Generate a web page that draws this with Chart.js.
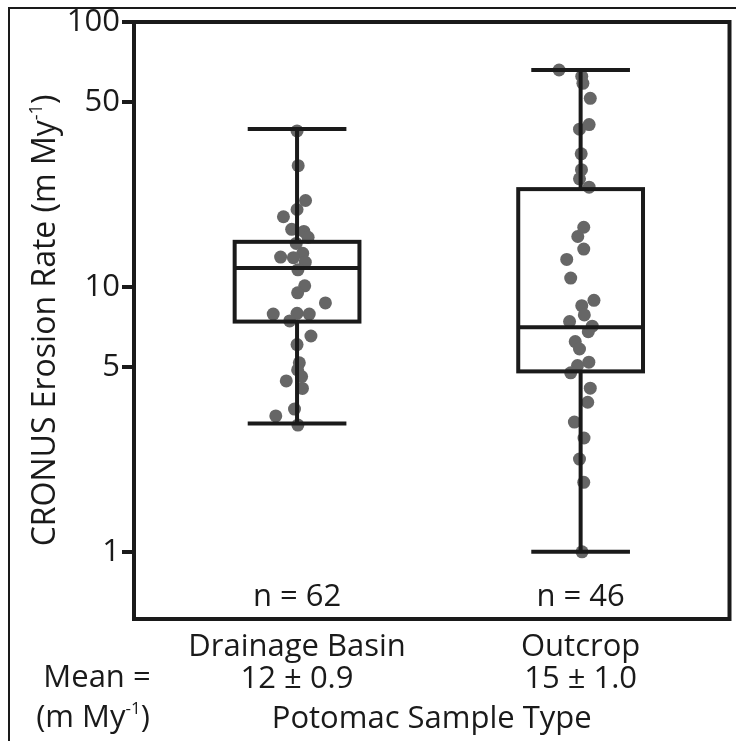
<!DOCTYPE html>
<html>
<head>
<meta charset="utf-8">
<script src="https://cdn.jsdelivr.net/npm/chart.js@4.4.1/dist/chart.umd.min.js"></script>
<style>
  html, body { margin: 0; padding: 0; background: #fff; }
  #wrap { width: 736px; height: 741px; }
</style>
</head>
<body>
<div id="wrap"><canvas id="ErosionChart" width="736" height="741"></canvas></div>
<script>
// ================= Data =================
const categories = ['Drainage Basin', 'Outcrop'];
const meanRates = ['12 ± 0.9', '15 ± 1.0'];
const sampleCounts = [62, 46];
const yTickValues = [1, 5, 10, 50, 100];

// box plot stats (m My-1)
const whiskerLow = [3.05, 1.0];
const quartile1 = [7.4, 4.8];
const medians = [11.8, 7.05];
const quartile3 = [14.8, 23.4];
const whiskerHigh = [39.5, 65.9];

// single samples, jitter is in category units
const drainageRates = [38.8, 28.7, 21.2, 19.6, 18.4, 16.5, 16.2, 15.4, 14.6, 13.4, 12.96, 12.9, 12.4, 11.6, 10.1, 9.5, 8.7, 7.9, 7.95, 7.9, 7.44, 6.53, 6.06, 5.17, 4.86, 4.59, 4.42, 4.14, 3.46, 3.26, 3.01];
const drainageJitter = [0.0, 0.004, 0.03, 0.0, -0.048, -0.019, 0.024, 0.039, -0.003, 0.02, -0.058, -0.013, 0.029, 0.003, 0.027, 0.002, 0.10, -0.084, 0.0, 0.043, -0.026, 0.049, 0.0, 0.008, 0.002, 0.016, -0.038, 0.019, -0.009, -0.075, 0.003];
const outcropRates = [65.9, 62.4, 58.7, 51.5, 41.0, 39.4, 31.8, 27.7, 25.6, 23.8, 16.8, 15.5, 13.9, 12.7, 10.8, 8.9, 8.5, 7.84, 7.40, 7.11, 6.78, 6.22, 5.83, 5.20, 5.05, 4.74, 4.15, 3.67, 3.09, 2.69, 2.24, 1.83, 1.0];
const outcropJitter = [-0.076, 0.004, 0.008, 0.034, 0.03, -0.004, 0.002, 0.003, -0.004, 0.03, 0.011, -0.01, 0.011, -0.049, -0.035, 0.047, 0.004, 0.013, -0.039, 0.041, 0.027, -0.019, -0.004, 0.029, -0.011, -0.035, 0.034, 0.025, -0.022, 0.012, -0.004, 0.011, 0.005];

const FONT = '"Open Sans", sans-serif';
const INK = '#1a1a1a';
const DOT = '#666666';

// text with a small raised part, e.g. My-1
function drawSupText(ctx, base, sup, tail, x, y, size) {
  const big = `${size}px ${FONT}`;
  const small = `${Math.round(size * 0.55)}px ${FONT}`;
  ctx.font = big;
  const w1 = ctx.measureText(base).width;
  const w3 = ctx.measureText(tail).width;
  ctx.font = small;
  const w2 = ctx.measureText(sup).width;
  let sx = x - (w1 + w2 + w3) / 2;
  ctx.textAlign = 'left';
  ctx.textBaseline = 'middle';
  ctx.font = big;
  ctx.fillText(base, sx, y);
  ctx.font = small;
  ctx.fillText(sup, sx + w1, y - size * 0.3);
  ctx.font = big;
  ctx.fillText(tail, sx + w1 + w2, y);
}

// ================= Box plot + frame + labels =================
const boxPlot = {
  id: 'boxPlot',
  beforeDraw(chart) {
    const c = chart.ctx;
    c.save();
    c.fillStyle = '#fff';
    c.fillRect(0, 0, chart.width, chart.height);
    // outer figure border (runs off right/bottom)
    c.strokeStyle = INK;
    c.lineWidth = 2;
    c.strokeRect(9, 8, chart.width + 10, chart.height + 10);
    c.restore();
  },
  afterDatasetsDraw(chart) {
    const c = chart.ctx;
    const xs = chart.scales.x;
    const ys = chart.scales.y;
    const area = chart.chartArea;
    c.save();
    c.strokeStyle = INK;
    c.lineWidth = 4;
    c.lineCap = 'butt';
    categories.forEach((cat, i) => {
      const xc = xs.getPixelForValue(i + 1);
      const bl = xs.getPixelForValue(i + 1 - 0.22);
      const br = xs.getPixelForValue(i + 1 + 0.22);
      const cl = xs.getPixelForValue(i + 1 - 0.174);
      const cr = xs.getPixelForValue(i + 1 + 0.174);
      const yLo = ys.getPixelForValue(whiskerLow[i]);
      const yQ1 = ys.getPixelForValue(quartile1[i]);
      const yMed = ys.getPixelForValue(medians[i]);
      const yQ3 = ys.getPixelForValue(quartile3[i]);
      const yHi = ys.getPixelForValue(whiskerHigh[i]);
      c.beginPath();
      // whiskers
      c.moveTo(xc, yHi); c.lineTo(xc, yQ3);
      c.moveTo(xc, yQ1); c.lineTo(xc, yLo);
      c.moveTo(cl, yHi); c.lineTo(cr, yHi);
      c.moveTo(cl, yLo); c.lineTo(cr, yLo);
      // median
      c.moveTo(bl, yMed); c.lineTo(br, yMed);
      c.stroke();
      c.strokeRect(bl, yQ3, br - bl, yQ1 - yQ3);
    });
    // plot frame
    c.lineJoin = 'miter';
    c.strokeRect(area.left, area.top, area.right - area.left, area.bottom - area.top);

    // n = labels inside the plot
    c.fillStyle = INK;
    c.font = `31px ${FONT}`;
    c.textAlign = 'center';
    c.textBaseline = 'middle';
    sampleCounts.forEach((n, i) => {
      c.fillText(`n = ${n}`, xs.getPixelForValue(i + 1), area.bottom - 22);
    });

    // mean row header
    c.fillText('Mean =', 97, 678);
    drawSupText(c, '(m My', '-1', ')', 93, 718, 31);

    // y axis title
    c.save();
    c.translate(46, (area.top + area.bottom) / 2);
    c.rotate(-Math.PI / 2);
    drawSupText(c, 'CRONUS Erosion Rate (m My', '-1', ')', 0, 0, 32);
    c.restore();
    c.restore();
  }
};

const ctx = document.getElementById('ErosionChart').getContext('2d');

const dotStyle = {
  backgroundColor: DOT,
  borderWidth: 0,
  pointRadius: 6.5,
  pointHoverRadius: 6.5
};

const chart = new Chart(ctx, {
  type: 'scatter',
  data: {
    datasets: [
      {
        label: categories[0],
        data: drainageRates.map((r, i) => ({ x: 1 + drainageJitter[i], y: r })),
        ...dotStyle
      },
      {
        label: categories[1],
        data: outcropRates.map((r, i) => ({ x: 2 + outcropJitter[i], y: r })),
        ...dotStyle
      }
    ]
  },
  options: {
    responsive: false,
    animation: false,
    devicePixelRatio: 1,
    layout: { padding: { top: 22, right: 3, left: 0, bottom: 0 } },
    plugins: {
      legend: { display: false },
      tooltip: { enabled: false }
    },
    scales: {
      x: {
        type: 'linear',
        min: 0.425,
        max: 2.525,
        grid: { display: false, drawTicks: false },
        border: { display: false },
        afterBuildTicks: s => { s.ticks = [{ value: 1 }, { value: 2 }]; },
        afterFit: s => { s.height = 122; },
        ticks: {
          color: INK,
          autoSkip: false,
          maxRotation: 0,
          padding: 12,
          font: { family: FONT, size: 31, lineHeight: 1.03 },
          callback: (v, i) => [categories[i], meanRates[i]]
        },
        title: {
          display: true,
          text: 'Potomac Sample Type',
          color: INK,
          font: { family: FONT, size: 31, lineHeight: 1.03 },
          padding: { top: 0, bottom: 6 }
        }
      },
      y: {
        type: 'logarithmic',
        min: 0.558,
        max: 100,
        afterBuildTicks: s => { s.ticks = yTickValues.map(v => ({ value: v })); },
        afterFit: s => { s.width = 134; },
        grid: { drawOnChartArea: false, drawTicks: true, tickLength: 12, lineWidth: 4, color: INK },
        border: { display: false },
        ticks: {
          color: INK,
          autoSkip: false,
          padding: 2,
          font: { family: FONT, size: 31 },
          callback: v => String(v)
        }
      }
    }
  },
  plugins: [boxPlot]
});
</script>
</body>
</html>
